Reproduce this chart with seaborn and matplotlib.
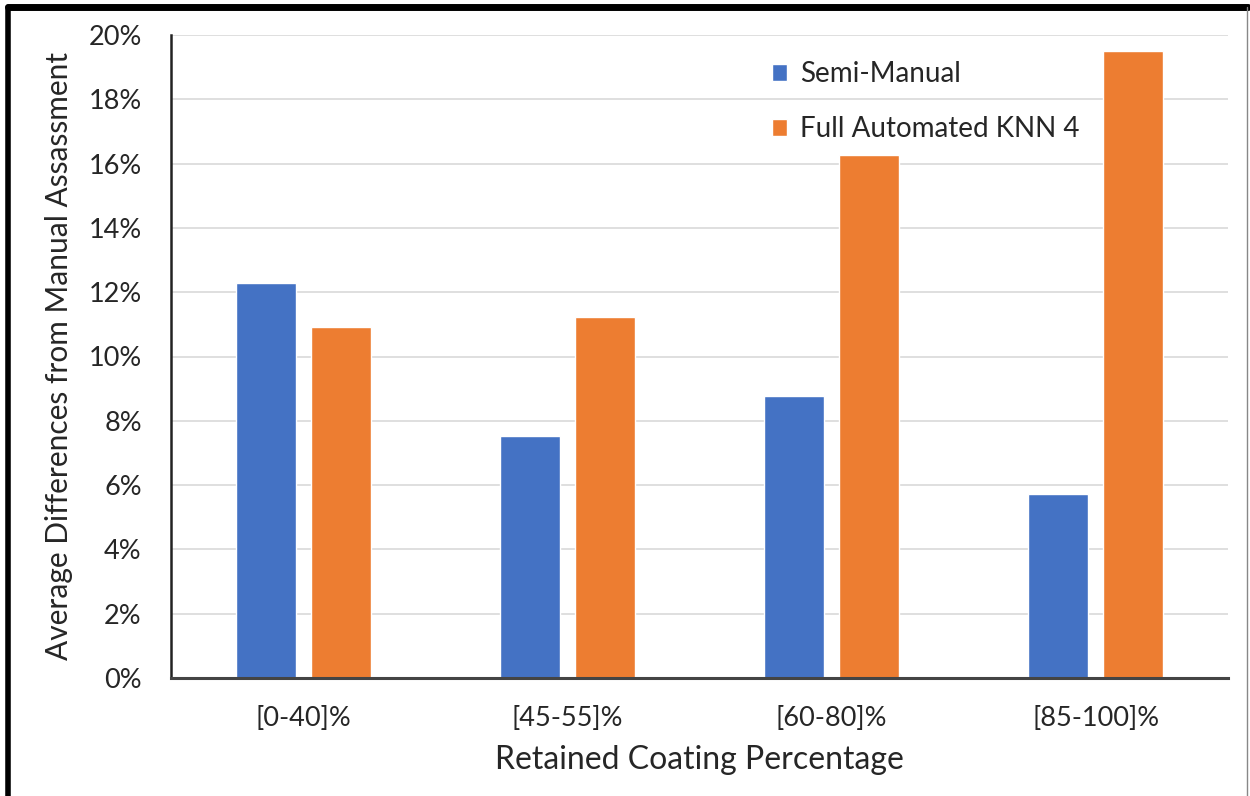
import matplotlib
matplotlib.use("Agg")
import matplotlib.pyplot as plt
import seaborn as sns
import pandas as pd
from matplotlib.lines import Line2D
from matplotlib.ticker import FuncFormatter

categories = ["[0-40]%", "[45-55]%", "[60-80]%", "[85-100]%"]
semi_manual = [12.3, 7.53, 8.77, 5.72]
full_auto = [10.92, 11.23, 16.27, 19.5]
series_names = ["Semi-Manual", "Full Automated KNN 4"]
colors = ["#4472C4", "#ED7D31"]

df = pd.DataFrame({
    "cat": categories * 2,
    "val": semi_manual + full_auto,
    "series": [series_names[0]] * 4 + [series_names[1]] * 4,
})

sns.set_theme(style="white")
plt.rcParams["font.family"] = ["Lato", "DejaVu Sans"]

fig = plt.figure(figsize=(12.5, 7.96), dpi=100)
ax = fig.add_axes([171 / 1250, 1 - 678 / 796, (1228 - 171) / 1250, (678 - 35) / 796])

sns.barplot(data=df, x="cat", y="val", hue="series", palette=colors,
            width=0.568, gap=0.2, ax=ax, saturation=1, legend=True)

ax.set_ylim(0, 20)
ax.set_xlim(-0.5, 3.5)
ax.set_yticks(range(0, 21, 2))
ax.yaxis.set_major_formatter(FuncFormatter(lambda v, p: f"{int(v)}%"))
ax.grid(axis="y", color="#d9d9d9", linewidth=1.2)
ax.set_axisbelow(True)
for s in ["top", "right"]:
    ax.spines[s].set_visible(False)
ax.spines["left"].set_color("#222222")
ax.spines["left"].set_linewidth(1.8)
ax.spines["bottom"].set_color("#444444")
ax.spines["bottom"].set_linewidth(2.2)
ax.tick_params(axis="y", length=0, labelsize=19.5, colors="#262626", pad=21)
ax.tick_params(axis="x", length=0, labelsize=19.5, colors="#262626", pad=20)

ax.set_xlabel("Retained Coating Percentage", fontsize=23, color="#262626", labelpad=10)
ax.set_ylabel("Average Differences from Manual Assassment", fontsize=21.5, color="#262626", labelpad=11)

ax.legend(loc="upper left", bbox_to_anchor=(0.545, 0.998), frameon=False,
          fontsize=20, handlelength=0.55, handleheight=0.55, handletextpad=0.45,
          labelspacing=1.05, labelcolor="#262626")

# figure frame
fig.add_artist(Line2D([8 / 1250, 1248 / 1250], [1 - 7 / 796, 1 - 7 / 796], color="black", linewidth=5, transform=fig.transFigure))
fig.add_artist(Line2D([8 / 1250, 8 / 1250], [0, 1 - 7 / 796], color="black", linewidth=4, transform=fig.transFigure))
fig.add_artist(Line2D([1247 / 1250, 1247 / 1250], [0, 1 - 7 / 796], color="#888888", linewidth=1, transform=fig.transFigure))

fig.savefig("out.png", dpi=100, facecolor="white")
